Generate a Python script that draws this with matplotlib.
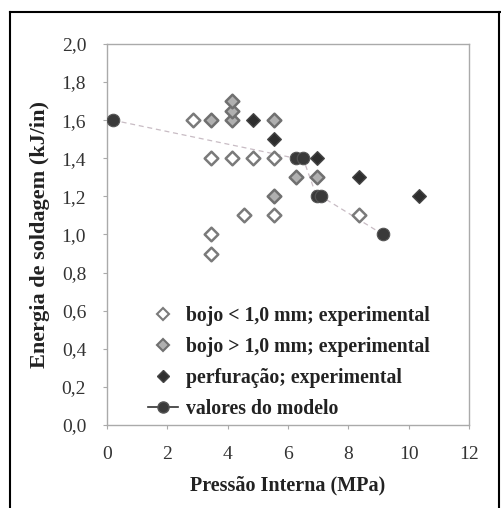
import matplotlib
matplotlib.use("Agg")
import matplotlib.pyplot as plt
from matplotlib.lines import Line2D

# Bulge below 1.0 mm (open diamonds)
bojo_menor_x = [2.85, 3.45, 4.15, 4.85, 5.55, 4.55, 5.55, 3.45, 3.45, 8.35]
bojo_menor_y = [1.6, 1.4, 1.4, 1.4, 1.4, 1.1, 1.1, 1.0, 0.9, 1.1]

# Bulge above 1.0 mm (grey diamonds)
bojo_maior_x = [3.45, 4.15, 4.15, 4.15, 5.55, 5.55, 6.25, 6.95]
bojo_maior_y = [1.6, 1.6, 1.65, 1.7, 1.6, 1.2, 1.3, 1.3]

# Burn-through (dark diamonds)
perf_x = [4.85, 5.55, 6.95, 8.35, 10.35]
perf_y = [1.6, 1.5, 1.4, 1.3, 1.2]

# Model curve
modelo_x = [0.2, 6.25, 6.5, 6.95, 7.1, 9.15]
modelo_y = [1.6, 1.4, 1.4, 1.2, 1.2, 1.0]

x_ticks = [0, 2, 4, 6, 8, 10, 12]
y_ticks = [0.0, 0.2, 0.4, 0.6, 0.8, 1.0, 1.2, 1.4, 1.6, 1.8, 2.0]

serif = ["Liberation Serif", "DejaVu Serif"]

fig = plt.figure(figsize=(5.01, 5.08), dpi=100)
ax = fig.add_axes([0.2136, 0.1634, 0.7224, 0.75])

ax.plot(modelo_x, modelo_y, linestyle=(0, (4, 3)), color="#c8bcc4", lw=0.9,
        marker="o", markersize=9, markerfacecolor="#3a3a3a",
        markeredgecolor="#555555", markeredgewidth=0.8, zorder=3)
ax.scatter(bojo_menor_x, bojo_menor_y, marker="D", s=48, facecolor="white",
           edgecolor="#7a7a7a", linewidth=1.8, zorder=4)
ax.scatter(bojo_maior_x, bojo_maior_y, marker="D", s=48, facecolor="#b0b0b0",
           edgecolor="#707070", linewidth=1.8, zorder=4)
ax.scatter(perf_x, perf_y, marker="D", s=48, facecolor="#2e2e2e",
           edgecolor="#444444", linewidth=1.0, zorder=4)

ax.set_xlim(0, 12)
ax.set_ylim(0, 2.0)
ax.set_xticks(x_ticks)
ax.set_xticklabels([str(v) for v in x_ticks])
ax.set_yticks(y_ticks)
ax.set_yticklabels([f"{v:.1f}".replace(".", ",") for v in y_ticks])

for sp in ax.spines.values():
    sp.set_color("#aaaaaa")
    sp.set_linewidth(1.0)
ax.tick_params(axis="both", direction="out", length=3, width=0.8,
               color="#aaaaaa", labelcolor="#333333")
for lab in ax.get_xticklabels() + ax.get_yticklabels():
    lab.set_fontfamily(serif)
    lab.set_fontsize(14)
ax.tick_params(axis="y", pad=12)
ax.tick_params(axis="x", pad=12)

ax.set_xlabel("Pressão Interna (MPa)", fontfamily=serif, fontweight="bold",
              fontsize=14.5, color="#222222", labelpad=9)
ax.set_ylabel("Energia de soldagem (kJ/in)", fontfamily=serif, fontweight="bold",
              fontsize=16, color="#222222", labelpad=8)

handles = [
    Line2D([], [], ls="none", marker="D", markersize=6, markerfacecolor="white",
           markeredgecolor="#7a7a7a", markeredgewidth=1.5),
    Line2D([], [], ls="none", marker="D", markersize=6, markerfacecolor="#b0b0b0",
           markeredgecolor="#707070", markeredgewidth=1.5),
    Line2D([], [], ls="none", marker="D", markersize=6, markerfacecolor="#2e2e2e",
           markeredgecolor="#444444"),
    Line2D([], [], color="#333333", lw=1.2, marker="o", markersize=8,
           markerfacecolor="#3a3a3a", markeredgecolor="#555555"),
]
labels = ["bojo < 1,0 mm; experimental", "bojo > 1,0 mm; experimental",
          "perfuração; experimental", "valores do modelo"]
leg = ax.legend(handles, labels, loc="lower left", bbox_to_anchor=(0.065, -0.03),
                frameon=False, handlelength=1.5, handletextpad=0.4,
                labelspacing=0.55, prop={"family": serif, "weight": "bold",
                                         "size": 14.2})
for t in leg.get_texts():
    t.set_color("#222222")

# Outer frame lines
fig.add_artist(Line2D([10 / 501, 10 / 501], [0, 1 - 12 / 508], color="black",
                      lw=1.5, transform=fig.transFigure))
fig.add_artist(Line2D([10 / 501, 1.0], [1 - 12 / 508, 1 - 12 / 508],
                      color="black", lw=1.5, transform=fig.transFigure))
fig.add_artist(Line2D([499 / 501, 499 / 501], [0, 1 - 12 / 508], color="black",
                      lw=1.5, transform=fig.transFigure))

fig.savefig("out.png", dpi=100)
